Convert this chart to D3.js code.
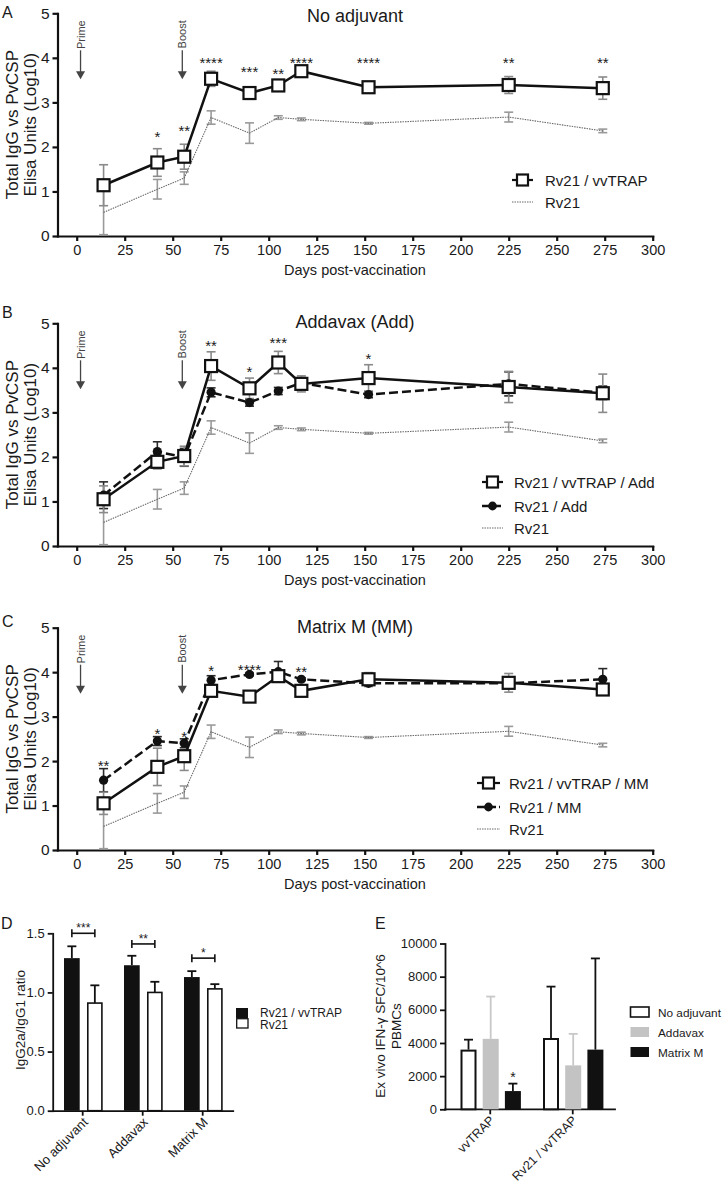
<!DOCTYPE html>
<html><head><meta charset="utf-8">
<script src="https://cdn.jsdelivr.net/npm/d3@7"></script>
<style>body{margin:0;background:#fff}svg{display:block}</style>
</head><body><svg id="c" width="724" height="1186"></svg>
<script>
// ---------- DATA ----------
const days = [14, 42, 56, 70, 90, 105, 117, 152, 225, 274];
const xTickValues = [0, 25, 50, 75, 100, 125, 150, 175, 200, 225, 250, 275, 300];
const yTickValues = [0, 1, 2, 3, 4, 5];
const primeDay = 2, boostDay = 55;

// Rv21 control (same in panels A-C)
const rv21 = [0.53, 1.05, 1.30, 2.66, 2.31, 2.66, 2.62, 2.53, 2.67, 2.36];
const rv21Err = [0.50, 0.22, 0.14, 0.15, 0.23, 0.04, 0.03, 0.02, 0.11, 0.04];

// Panel A
const aVvtrap = [1.14, 1.65, 1.78, 3.53, 3.21, 3.38, 3.70, 3.34, 3.39, 3.32];
const aVvtrapErr = [0.46, 0.31, 0.28, 0.17, 0.14, 0.13, 0.06, 0.03, 0.19, 0.25];
const aStars = ["", "*", "**", "****", "***", "**", "****", "****", "**", "**"];
const aStarPos = [0, 2.30, 2.43, 3.95, 3.76, 3.71, 3.96, 3.96, 3.96, 3.96];

// Panel B
const bVvtrapAdd = [1.05, 1.89, 2.02, 4.04, 3.54, 4.12, 3.64, 3.77, 3.57, 3.43];
const bVvtrapAddErr = [0.30, 0.16, 0.22, 0.32, 0.23, 0.25, 0.18, 0.30, 0.35, 0.43];
const bRv21Add = [1.14, 2.12, 1.99, 3.45, 3.22, 3.48, 3.66, 3.40, 3.64, 3.44];
const bRv21AddErr = [0.30, 0.22, 0.20, 0.10, 0.08, 0.08, 0.12, 0.07, 0.27, 0.15];
const bStars = ["", "", "", "**", "*", "***", "", "*", "", ""];
const bStarPos = [0, 0, 0, 4.55, 3.97, 4.63, 0, 4.27, 0, 0];

// Panel C
const cVvtrapMM = [1.05, 1.87, 2.11, 3.58, 3.45, 3.91, 3.58, 3.84, 3.76, 3.61];
const cVvtrapMMErr = [0.25, 0.42, 0.32, 0.10, 0.05, 0.10, 0.06, 0.15, 0.21, 0.05];
const cRv21MM = [1.57, 2.45, 2.40, 3.82, 3.95, 4.01, 3.84, 3.75, 3.75, 3.84];
const cRv21MMErr = [0.26, 0.10, 0.10, 0.10, 0.03, 0.23, 0.03, 0.07, 0.10, 0.24];
const cStars = ["**", "*", "*", "*", "****", "", "**", "", "", ""];
const cStarPos = [1.95, 2.68, 2.62, 4.09, 4.12, 0, 4.06, 0, 0, 0];

// Panel D
const dGroups = ["No adjuvant", "Addavax", "Matrix M"];
const dVvtrap = [1.29, 1.23, 1.13];
const dVvtrapErr = [0.10, 0.08, 0.05];
const dRv21 = [0.91, 1.00, 1.03];
const dRv21Err = [0.15, 0.09, 0.04];
const dSig = ["***", "**", "*"];
const dSigLevel = [1.50, 1.41, 1.29];
const dTicks = [0, 0.5, 1.0, 1.5];

// Panel E
const eGroups = ["vvTRAP", "Rv21 / vvTRAP"];
const eSeries = ["No adjuvant", "Addavax", "Matrix M"];
const eNoAdj = [3600, 4300];
const eNoAdjErr = [600, 3100];
const eAddavax = [4250, 2650];
const eAddavaxErr = [2550, 1900];
const eMatrixM = [1100, 3600];
const eMatrixMErr = [450, 5500];
const eTicks = [0, 2000, 4000, 6000, 8000, 10000];

// ---------- DRAWING ----------
const FONT = "'Liberation Sans', Arial, Helvetica, sans-serif";
const svg = d3.select('#c');
svg.append('rect').attr('width', 724).attr('height', 1186).attr('fill', '#fff');

function txt(g, x, y, s, size, opts = {}) {
  const t = g.append('text').attr('x', x).attr('y', y).text(s)
    .attr('font-family', FONT).attr('font-size', size).attr('fill', opts.fill || '#1a1a1a')
    .attr('text-anchor', opts.anchor || 'start');
  if (opts.transform) t.attr('transform', opts.transform);
  return t;
}
function styleAxis(sel, fs, sw) {
  sel.attr('font-family', FONT).attr('font-size', fs);
  sel.select('.domain').attr('stroke', '#111').attr('stroke-width', sw).attr('stroke-linecap', 'square');
  sel.selectAll('.tick line').attr('stroke', '#111').attr('stroke-width', sw);
  sel.selectAll('.tick text').attr('fill', '#1a1a1a');
}
function seg(g, x1, y1, x2, y2, color, sw) {
  return g.append('line').attr('x1', x1).attr('y1', y1).attr('x2', x2).attr('y2', y2).attr('stroke', color).attr('stroke-width', sw);
}
function errBar(g, cx, yTop, yBot, color, capW, sw) {
  seg(g, cx, yTop, cx, yBot, color, sw);
  seg(g, cx - capW / 2, yTop, cx + capW / 2, yTop, color, sw);
  seg(g, cx - capW / 2, yBot, cx + capW / 2, yBot, color, sw);
}
function errUp(g, cx, yTop, yBase, color, capW, sw) {
  seg(g, cx, yTop, cx, yBase, color, sw);
  seg(g, cx - capW / 2, yTop, cx + capW / 2, yTop, color, sw);
}

const GRAY_LINE = '#6a6a6a', GRAY_ERR = '#9a9a9a';
const DASH = '9,4';

function linePanel(o) {
  const g = svg.append('g');
  const x = d3.scaleLinear().domain([-10, 300]).range([57.5, 652.7]);
  const y = d3.scaleLinear().domain([0, 5]).range([o.y0, o.y5]);

  const ax = g.append('g').attr('transform', `translate(0,${o.y0})`)
    .call(d3.axisBottom(x).tickValues(xTickValues).tickSize(5).tickSizeOuter(0).tickPadding(4));
  styleAxis(ax, 14.5, 2.2);
  const ay = g.append('g').attr('transform', `translate(57.5,0)`)
    .call(d3.axisLeft(y).tickValues(yTickValues).tickSize(5).tickSizeOuter(0).tickFormat(d3.format('d')));
  styleAxis(ay, 15.5, 2.2);

  txt(g, 2, o.labelY, o.label, 16);
  txt(g, 355, o.titleY, o.title, 18, { anchor: 'middle' });
  txt(g, 355, o.y0 + 39, 'Days post-vaccination', 14.5, { anchor: 'middle' });
  const cy = (o.y0 + o.y5) / 2;
  txt(g, 18, cy, 'Total IgG vs PvCSP', 17, { anchor: 'middle', transform: `rotate(-90,18,${cy})` });
  txt(g, 36, cy, 'Elisa Units (Log10)', 17, { anchor: 'middle', transform: `rotate(-90,36,${cy})` });

  [[primeDay, 'Prime'], [boostDay, 'Boost']].forEach(([d, s]) => {
    const px = x(d);
    const ty = o.y5 + 7;
    txt(g, px + 4, ty, s, 11, { anchor: 'end', fill: '#444', transform: `rotate(-90,${px + 4},${ty})` });
    seg(g, px, o.y5 + 37, px, o.y5 + 59, '#444', 1.3);
    g.append('path').attr('d', `M${px - 4.5},${o.y5 + 58}L${px + 4.5},${o.y5 + 58}L${px},${o.y5 + 66}Z`).attr('fill', '#444');
  });

  const line = d3.line().x(d => x(d[0])).y(d => y(d[1]));

  const ctrl = days.map((d, i) => [d, rv21[i]]);
  days.forEach((d, i) => errBar(g, x(d), y(rv21[i] + rv21Err[i]), y(Math.max(0, rv21[i] - rv21Err[i])), GRAY_ERR, 9, 1.6));
  g.append('path').datum(ctrl).attr('d', line).attr('fill', 'none').attr('stroke', GRAY_LINE)
    .attr('stroke-width', 1.1).attr('stroke-dasharray', '1.5,1');

  if (o.circ) {
    days.forEach((d, i) => errBar(g, x(d), y(o.circ[i] + o.circErr[i]), y(o.circ[i] - o.circErr[i]), '#2a2a2a', 9, 1.6));
  }
  days.forEach((d, i) => errBar(g, x(d), y(o.sq[i] + o.sqErr[i]), y(o.sq[i] - o.sqErr[i]), '#8a8a8a', 9, 1.6));
  if (o.circ) {
    const cd = days.map((d, i) => [d, o.circ[i]]);
    g.append('path').datum(cd).attr('d', line).attr('fill', 'none').attr('stroke', '#111')
      .attr('stroke-width', 2.5).attr('stroke-dasharray', DASH);
  }
  const sd = days.map((d, i) => [d, o.sq[i]]);
  g.append('path').datum(sd).attr('d', line).attr('fill', 'none').attr('stroke', '#111').attr('stroke-width', 2.5);
  if (o.circ) {
    g.selectAll(null).data(days).enter().append('circle')
      .attr('cx', d => x(d)).attr('cy', (d, i) => y(o.circ[i])).attr('r', 4.6).attr('fill', '#111');
  }
  g.selectAll(null).data(days).enter().append('rect')
    .attr('x', d => x(d) - 6).attr('y', (d, i) => y(o.sq[i]) - 6).attr('width', 12).attr('height', 12)
    .attr('fill', '#fff').attr('stroke', '#111').attr('stroke-width', 2.2);

  days.forEach((d, i) => {
    if (o.stars[i]) txt(g, x(d), y(o.starPos[i]) + 8, o.stars[i], 15, { anchor: 'middle' });
  });

  const L = o.legend;
  L.items.forEach((it, k) => {
    const ly = L.ys[k];
    if (it.type === 'sq') {
      seg(g, L.x0, ly, L.x1, ly, '#111', 2.2);
      const mx = (L.x0 + L.x1) / 2;
      g.append('rect').attr('x', mx - 5.5).attr('y', ly - 5.5).attr('width', 11).attr('height', 11)
        .attr('fill', '#fff').attr('stroke', '#111').attr('stroke-width', 2.2);
    } else if (it.type === 'circ') {
      seg(g, L.x0, ly, L.x1, ly, '#111', 2.5).attr('stroke-dasharray', '8,3');
      g.append('circle').attr('cx', (L.x0 + L.x1) / 2).attr('cy', ly).attr('r', 4.4).attr('fill', '#111');
    } else {
      seg(g, L.x0, ly, L.x1, ly, GRAY_LINE, 1.1).attr('stroke-dasharray', '1.5,1');
    }
    txt(g, L.tx, ly + 5.5, it.name, 15);
  });
}

linePanel({ y0: 236, y5: 13.3, label: 'A', labelY: 18, title: 'No adjuvant', titleY: 21.5,
  sq: aVvtrap, sqErr: aVvtrapErr, stars: aStars, starPos: aStarPos,
  legend: { x0: 512, x1: 533, tx: 545, ys: [180, 202], items: [{ type: 'sq', name: 'Rv21 / vvTRAP' }, { type: 'ctrl', name: 'Rv21' }] } });
linePanel({ y0: 546, y5: 323.3, label: 'B', labelY: 317.5, title: 'Addavax (Add)', titleY: 328,
  sq: bVvtrapAdd, sqErr: bVvtrapAddErr, circ: bRv21Add, circErr: bRv21AddErr, stars: bStars, starPos: bStarPos,
  legend: { x0: 482, x1: 503, tx: 514, ys: [482, 506, 528], items: [{ type: 'sq', name: 'Rv21 / vvTRAP / Add' }, { type: 'circ', name: 'Rv21 / Add' }, { type: 'ctrl', name: 'Rv21' }] } });
linePanel({ y0: 850, y5: 627.7, label: 'C', labelY: 626.5, title: 'Matrix M (MM)', titleY: 633,
  sq: cVvtrapMM, sqErr: cVvtrapMMErr, circ: cRv21MM, circErr: cRv21MMErr, stars: cStars, starPos: cStarPos,
  legend: { x0: 477, x1: 500, tx: 509, ys: [783, 807, 829], items: [{ type: 'sq', name: 'Rv21 / vvTRAP / MM' }, { type: 'circ', name: 'Rv21 / MM' }, { type: 'ctrl', name: 'Rv21' }] } });

// ---------- Panel D ----------
(function () {
  const g = svg.append('g');
  const x0 = d3.scaleBand().domain(dGroups).range([52.7, 232.7]).padding(0);
  const x1 = d3.scaleBand().domain(['vv', 'rv']).range([11.3, 50]).paddingInner(0.317);
  const y = d3.scaleLinear().domain([0, 1.5]).range([1110.7, 933.3]);
  const ay = g.append('g').attr('transform', 'translate(52.7,0)')
    .call(d3.axisLeft(y).tickValues(dTicks).tickSize(5).tickSizeOuter(0).tickFormat(d3.format('.1f')));
  styleAxis(ay, 13, 1.8);
  const ax = g.append('g').attr('transform', 'translate(0,1110.7)')
    .call(d3.axisBottom(x0).tickSize(5).tickSizeOuter(0).tickFormat(''));
  styleAxis(ax, 13, 1.8);
  dGroups.forEach((grp, i) => {
    const cx = x0(grp) + x0.bandwidth() / 2;
    txt(g, cx + 6, 1123, grp, 13, { anchor: 'end', transform: `rotate(-45,${cx + 6},1123)` });
    const bx = x0(grp) + x1('vv'), wx = x0(grp) + x1('rv'), bw = x1.bandwidth();
    errUp(g, bx + bw / 2, y(dVvtrap[i] + dVvtrapErr[i]), y(dVvtrap[i]), '#111', 9, 1.8);
    errUp(g, wx + bw / 2, y(dRv21[i] + dRv21Err[i]), y(dRv21[i]), '#111', 9, 1.8);
    g.append('rect').attr('x', bx).attr('y', y(dVvtrap[i])).attr('width', bw).attr('height', y(0) - y(dVvtrap[i])).attr('fill', '#111');
    g.append('rect').attr('x', wx + 0.8).attr('y', y(dRv21[i])).attr('width', bw - 1.6).attr('height', y(0) - y(dRv21[i])).attr('fill', '#fff').attr('stroke', '#111').attr('stroke-width', 1.6);
    const by = y(dSigLevel[i]), xa = bx + bw / 2, xb = wx + bw / 2;
    seg(g, xa, by, xb, by, '#111', 1.6);
    [xa, xb].forEach(xx => seg(g, xx, by - 4, xx, by + 4, '#111', 1.6));
    txt(g, (xa + xb) / 2, by - 1, dSig[i], 12, { anchor: 'middle' });
  });
  txt(g, 1, 929, 'D', 16);
  txt(g, 25, 1020, 'IgG2a/IgG1 ratio', 13.5, { anchor: 'middle', transform: 'rotate(-90,25,1020)' });
  g.append('rect').attr('x', 236).attr('y', 1008).attr('width', 12).attr('height', 10).attr('fill', '#111');
  g.append('rect').attr('x', 236.7).attr('y', 1018.7).attr('width', 11.3).attr('height', 9.3).attr('fill', '#fff').attr('stroke', '#111').attr('stroke-width', 1.3);
  txt(g, 260, 1017, 'Rv21 / vvTRAP', 12);
  txt(g, 260, 1029, 'Rv21', 12);
})();

// ---------- Panel E ----------
(function () {
  const g = svg.append('g');
  const x0 = d3.scaleBand().domain(eGroups).range([449, 614]).padding(0);
  const x1 = d3.scaleBand().domain(eSeries).range([11.5, 71.9]).paddingInner(0.279);
  const y = d3.scaleLinear().domain([0, 10000]).range([1109.3, 943.5]);
  const ay = g.append('g').attr('transform', 'translate(445,0)')
    .call(d3.axisLeft(y).tickValues(eTicks).tickSize(5).tickSizeOuter(0).tickFormat(d3.format('d')));
  styleAxis(ay, 13, 1.8);
  const ax = g.append('g').attr('transform', 'translate(0,1109.3)')
    .call(d3.axisBottom(x0).tickSize(5).tickSizeOuter(0).tickFormat(''));
  styleAxis(ax, 13, 1.8);
  ax.select('.domain').attr('d', 'M445,0H615');
  const vals = [eNoAdj, eAddavax, eMatrixM], errs = [eNoAdjErr, eAddavaxErr, eMatrixMErr];
  const fills = ['#fff', '#c3c3c3', '#111'], errCol = ['#111', '#c8c8c8', '#111'];
  eGroups.forEach((grp, i) => {
    const cx = x0(grp) + x0.bandwidth() / 2;
    txt(g, cx + 5, 1121, grp, 12.5, { anchor: 'end', transform: `rotate(-45,${cx + 5},1121)` });
    eSeries.forEach((s, k) => {
      const bx = x0(grp) + x1(s), bw = x1.bandwidth(), v = vals[k][i], e = errs[k][i];
      errUp(g, bx + bw / 2, y(v + e), y(v), errCol[k], 9, 1.8);
      const r = g.append('rect').attr('x', bx + (k === 0 ? 1 : 0)).attr('y', y(v) + (k === 0 ? 1 : 0))
        .attr('width', bw - (k === 0 ? 2 : 0)).attr('height', y(0) - y(v) - (k === 0 ? 1 : 0)).attr('fill', fills[k]);
      if (k === 0) r.attr('stroke', '#111').attr('stroke-width', 2);
    });
  });
  const sx = x0(eGroups[0]) + x1('Matrix M') + x1.bandwidth() / 2;
  txt(g, sx, y(eMatrixM[0] + eMatrixMErr[0]) - 2, '*', 14, { anchor: 'middle' });
  txt(g, 375, 929, 'E', 16);
  txt(g, 385, 1026, 'Ex vivo IFN-γ SFC/10^6', 13.5, { anchor: 'middle', transform: 'rotate(-90,385,1026)' });
  txt(g, 401, 1026, 'PBMCs', 13.5, { anchor: 'middle', transform: 'rotate(-90,401,1026)' });
  const lys = [1012, 1032, 1052];
  eSeries.forEach((s, k) => {
    const rr = g.append('rect').attr('x', 630.5).attr('y', lys[k] - 5).attr('width', 18.5).attr('height', 10).attr('fill', fills[k]);
    if (k === 0) rr.attr('stroke', '#111').attr('stroke-width', 1.6);
    txt(g, 658, lys[k] + 4.5, s, 11.8);
  });
})();
</script></body></html>
